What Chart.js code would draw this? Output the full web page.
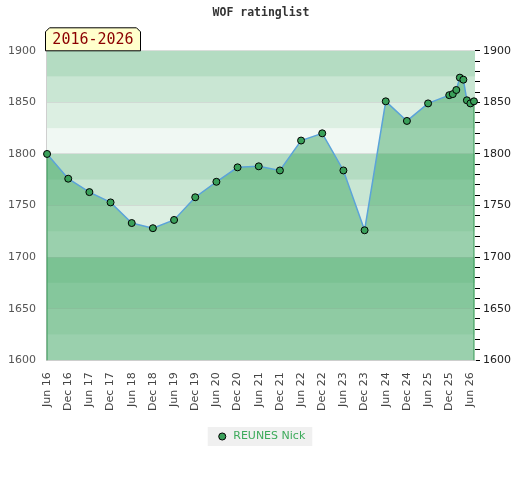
<!DOCTYPE html>
<html>
<head>
<meta charset="utf-8">
<script src="https://cdn.jsdelivr.net/npm/chart.js@4.4.0/dist/chart.umd.min.js"></script>
<style>
  html, body { margin: 0; padding: 0; background: #fff; }
  #wrap { width: 520px; height: 480px; }
</style>
</head>
<body>
<div id="wrap"><canvas id="myChart"></canvas></div>
<script>
// rating list dates (year-month) and ratings
const dates = [
  '2016-06', '2016-12', '2017-06', '2017-12', '2018-06', '2018-12',
  '2019-06', '2019-12', '2020-06', '2020-12', '2021-06', '2021-12',
  '2022-06', '2022-12', '2023-06', '2023-12', '2024-06', '2024-12',
  '2025-06', '2025-12', '2026-01', '2026-02', '2026-03', '2026-04',
  '2026-05', '2026-06', '2026-07'
];
const ratings = [
  1800, 1776, 1763, 1753, 1733, 1728,
  1736, 1758, 1773, 1787, 1788, 1784,
  1813, 1820, 1784, 1726, 1851, 1832,
  1849, 1857, 1858, 1862, 1874, 1872,
  1852, 1849, 1851
];
const xLabels = [
  'Jun 16', 'Dec 16', 'Jun 17', 'Dec 17', 'Jun 18', 'Dec 18', 'Jun 19',
  'Dec 19', 'Jun 20', 'Dec 20', 'Jun 21', 'Dec 21', 'Jun 22', 'Dec 22',
  'Jun 23', 'Dec 23', 'Jun 24', 'Dec 24', 'Jun 25', 'Dec 25', 'Jun 26'
];
const playerName = 'REUNES Nick';
const period = '2016-2026';

// months counted from Jun 2016
function monthIndex(d) {
  const p = d.split('-');
  return (parseInt(p[0]) - 2016) * 12 + (parseInt(p[1]) - 6);
}

const points = dates.map((d, i) => ({ x: monthIndex(d), y: ratings[i] }));

const bandAlpha = [0.39, 0.28, 0.18, 0.08];

// striped background + legend box
const backPlugin = {
  id: 'back',
  beforeDraw(chart) {
    const c = chart.ctx, a = chart.chartArea, y = chart.scales.y;
    c.save();
    for (let v = y.min; v < y.max; v += 25) {
      const k = Math.round((y.max - (v + 25)) / 25) % 4;
      const top = y.getPixelForValue(v + 25), bot = y.getPixelForValue(v);
      c.fillStyle = 'rgba(61, 166, 97, ' + bandAlpha[k] + ')';
      c.fillRect(a.left, top, a.right - a.left, bot - top);
    }
    const hb = chart.legend.legendHitBoxes[0];
    if (hb) {
      c.fillStyle = '#f0f0f0';
      c.fillRect(hb.left - 9, hb.top + hb.height / 2 - 9.5, hb.width + 16, 19);
    }
    c.restore();
  },
  beforeDatasetsDraw(chart) {
    // green edges of the area
    const c = chart.ctx, meta = chart.getDatasetMeta(0), a = chart.chartArea;
    const first = meta.data[0], last = meta.data[meta.data.length - 1];
    c.save();
    c.strokeStyle = 'rgb(50, 150, 80)';
    c.lineWidth = 1;
    c.beginPath();
    c.moveTo(first.x, first.y); c.lineTo(first.x, a.bottom);
    c.moveTo(last.x, last.y); c.lineTo(last.x, a.bottom);
    c.stroke();
    c.restore();
  },
  afterDraw(chart) {
    // period badge above the plot
    const c = chart.ctx, a = chart.chartArea;
    const l = a.left - 0.5, r = l + 95, t = a.top - 23, b = a.top, ch = 4;
    c.save();
    c.beginPath();
    c.moveTo(l, b); c.lineTo(l, t + ch); c.lineTo(l + ch, t);
    c.lineTo(r - ch, t); c.lineTo(r, t + ch); c.lineTo(r, b);
    c.closePath();
    c.fillStyle = '#ffffcc';
    c.fill();
    c.strokeStyle = '#000';
    c.lineWidth = 1;
    c.stroke();
    c.fillStyle = '#8b0000';
    c.font = '15px "DejaVu Sans Mono"';
    c.textAlign = 'center';
    c.textBaseline = 'middle';
    c.fillText(period, (l + r) / 2, (t + b) / 2 + 1);
    c.restore();
  }
};

new Chart(document.getElementById('myChart'), {
  type: 'line',
  data: {
    datasets: [{
      label: playerName,
      data: points,
      borderColor: 'rgb(91, 163, 217)',
      borderWidth: 1.5,
      backgroundColor: 'rgba(61, 166, 97, 0.48)',
      fill: 'origin',
      tension: 0,
      pointRadius: 3.5,
      pointHoverRadius: 3.5,
      pointBackgroundColor: 'rgb(58, 160, 90)',
      pointBorderColor: '#000',
      pointBorderWidth: 1,
      clip: false
    }]
  },
  options: {
    responsive: true,
    maintainAspectRatio: false,
    animation: false,
    layout: { padding: { left: 8, right: 6, bottom: 28 } },
    scales: {
      x: {
        type: 'linear',
        min: -0.3,
        max: 121.3,
        afterBuildTicks: (s) => { s.ticks = xLabels.map((t, i) => ({ value: i * 6 })); },
        ticks: {
          autoSkip: false,
          minRotation: 90,
          maxRotation: 90,
          padding: 12,
          color: '#444',
          font: { family: 'DejaVu Sans', size: 11 },
          callback: (v) => xLabels[Math.round(v / 6)]
        },
        grid: { display: false, drawTicks: false },
        border: { display: true, color: '#cfcfcf' }
      },
      y: {
        position: 'left',
        min: 1600,
        max: 1900,
        afterFit: (s) => { s.width = 38; },
        ticks: {
          stepSize: 50,
          padding: 10,
          color: '#555',
          font: { family: 'DejaVu Sans', size: 11 },
          callback: (v) => String(v)
        },
        grid: { color: 'rgba(205, 205, 205, 0.6)', drawTicks: false },
        border: { display: true, color: '#cfcfcf' }
      },
      y2: {
        position: 'right',
        min: 1600,
        max: 1900,
        ticks: {
          stepSize: 10,
          padding: 3,
          autoSkip: false,
          color: '#222',
          font: { family: 'DejaVu Sans', size: 11 },
          callback: (v) => (v % 50 === 0 ? String(v) : '')
        },
        grid: { drawOnChartArea: false, color: '#000', tickLength: 5 },
        border: { display: false }
      }
    },
    plugins: {
      title: {
        display: true,
        text: 'WOF ratinglist',
        color: '#333',
        font: { family: 'DejaVu Sans Mono', size: 11.5, weight: 'bold' },
        padding: { top: 6, bottom: 31 }
      },
      legend: {
        position: 'bottom',
        labels: {
          usePointStyle: true,
          boxHeight: 5,
          padding: 8,
          color: 'rgb(60, 170, 90)',
          font: { family: 'DejaVu Sans', size: 11 },
          generateLabels: () => [{
            text: playerName,
            fillStyle: 'rgb(58, 160, 90)',
            strokeStyle: '#000',
            lineWidth: 1,
            pointStyle: 'circle',
            fontColor: 'rgb(60, 170, 90)',
            datasetIndex: 0
          }]
        }
      },
      tooltip: { enabled: false }
    }
  },
  plugins: [backPlugin]
});
</script>
</body>
</html>
